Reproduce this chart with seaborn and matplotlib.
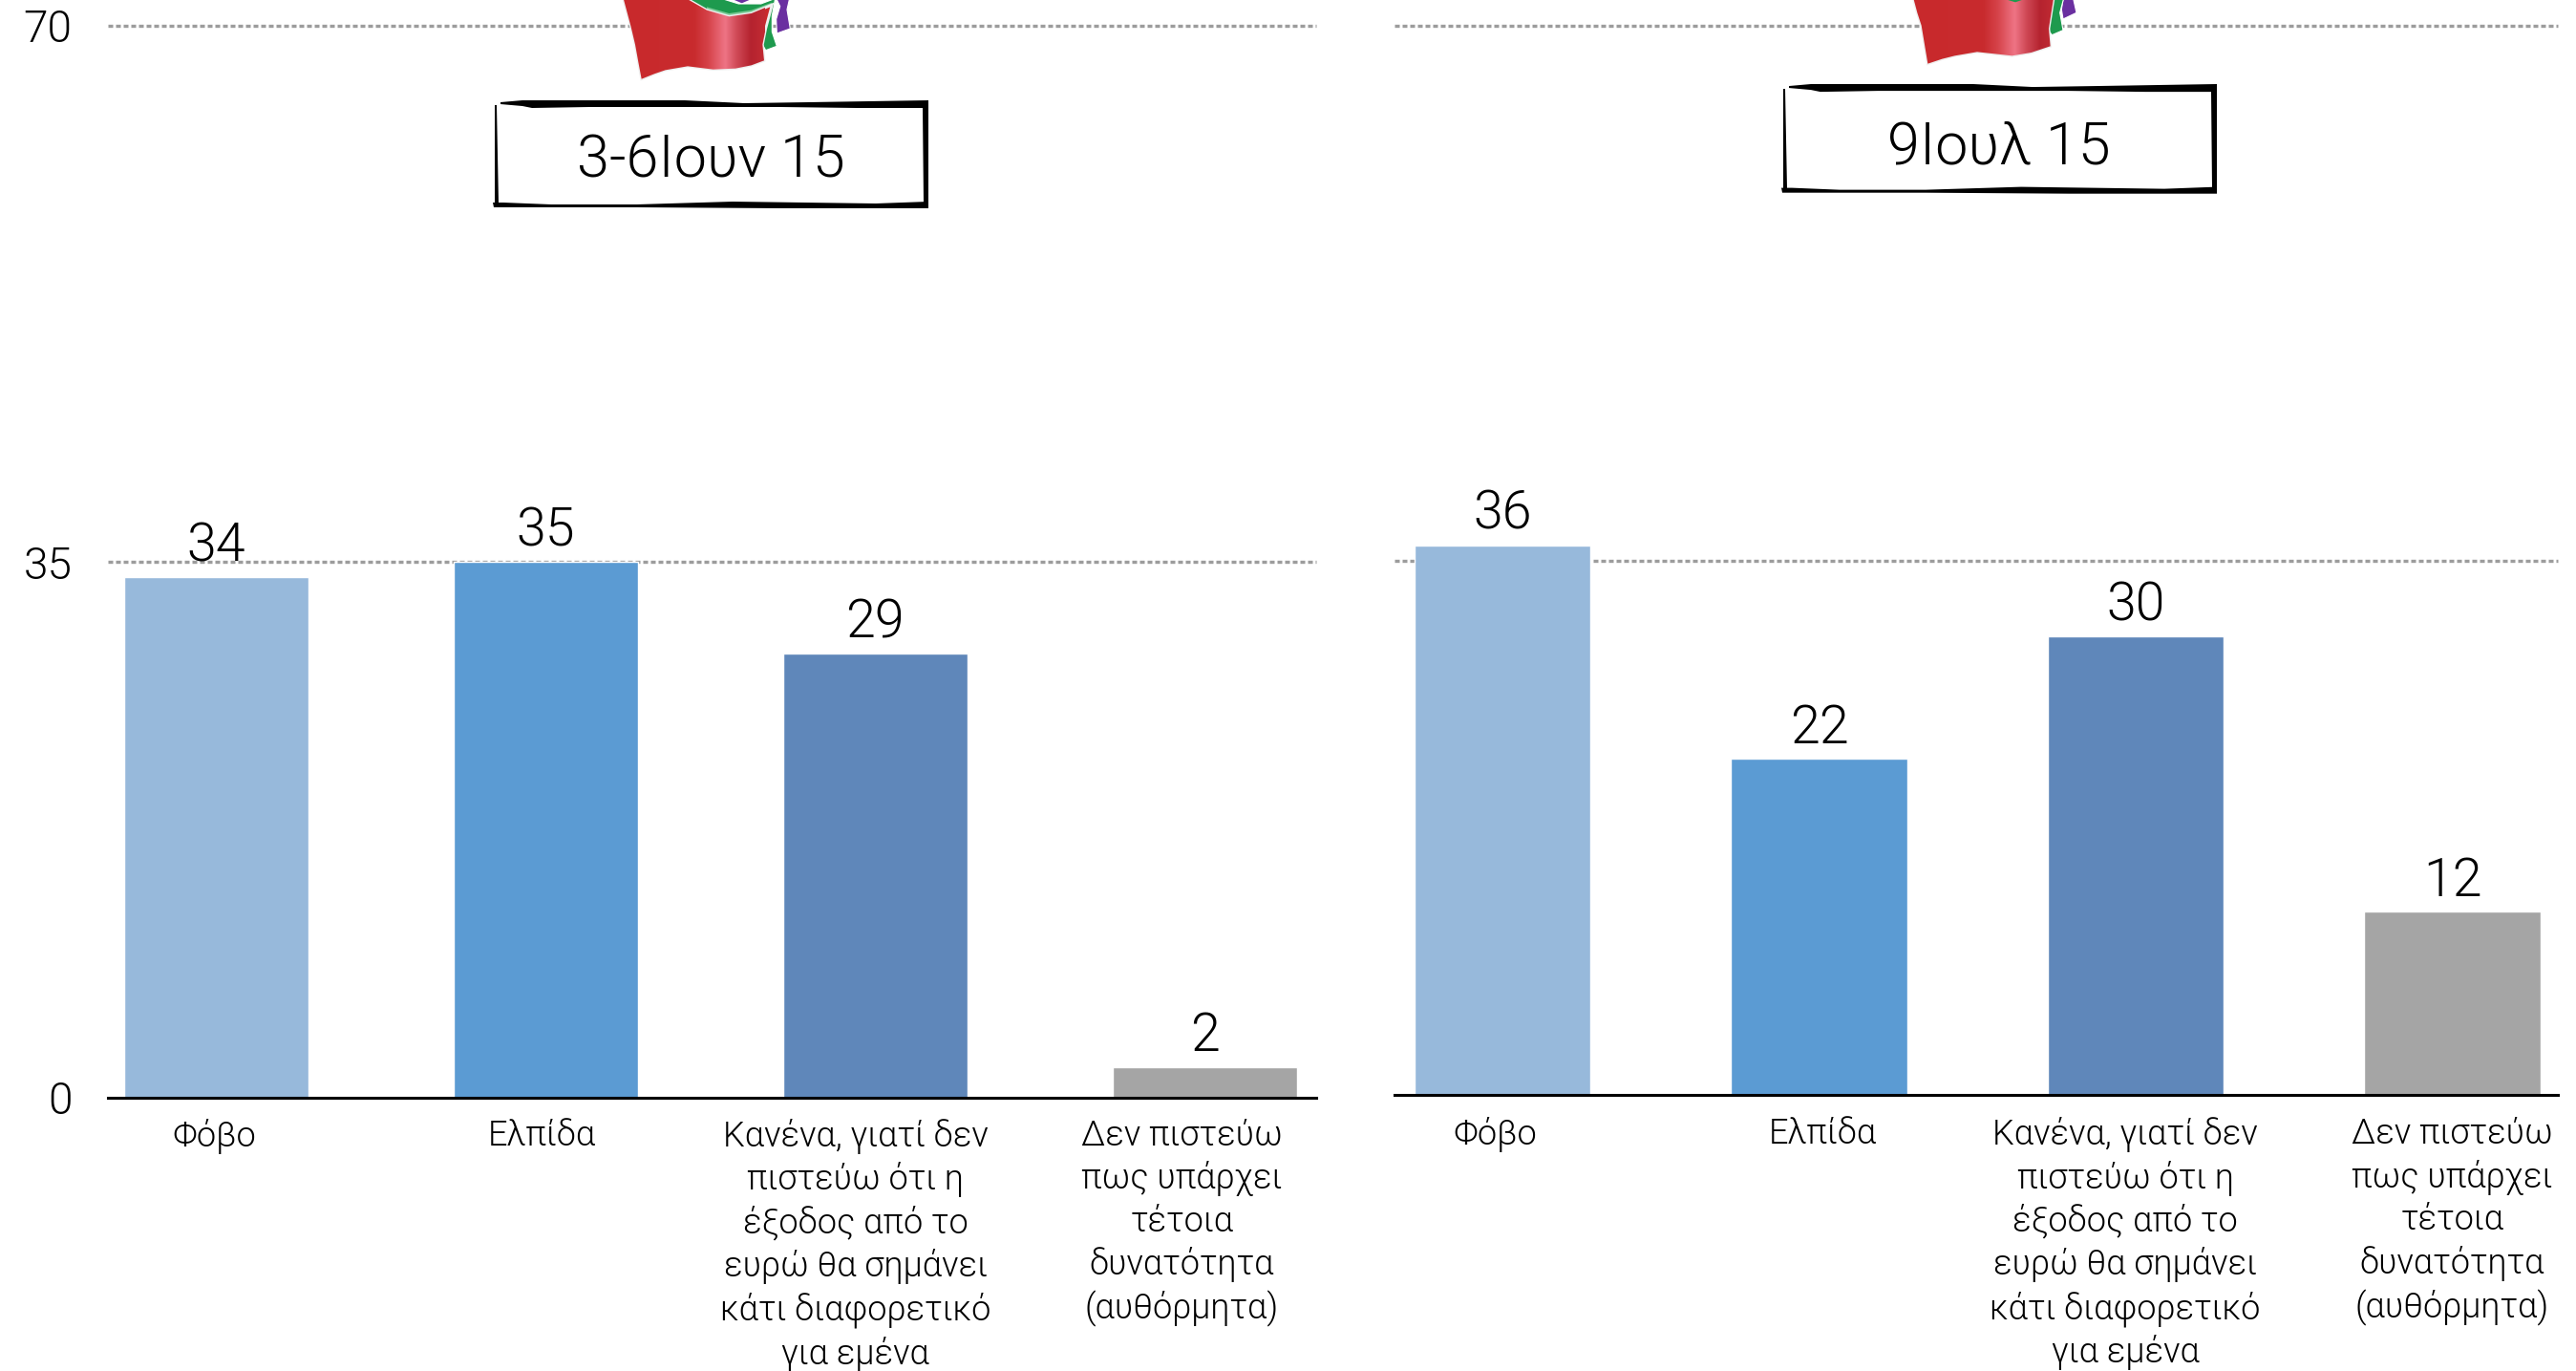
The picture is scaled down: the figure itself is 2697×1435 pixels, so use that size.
import matplotlib
matplotlib.use('Agg')
import matplotlib.pyplot as plt
from matplotlib.colors import LinearSegmentedColormap
from matplotlib.patches import Polygon
import numpy as np
import pandas as pd
import seaborn as sns

W, H = 2697, 1435

categories = ['Φόβο', 'Ελπίδα',
              'Κανένα, γιατί δεν\nπιστεύω ότι η\nέξοδος από το\nευρώ θα σημάνει\nκάτι διαφορετικό\nγια εμένα',
              'Δεν πιστεύω\nπως υπάρχει\nτέτοια\nδυνατότητα\n(αυθόρμητα)']
values_june = [34, 35, 29, 2]
values_july = [36, 22, 30, 12]
date_june = '3-6Ιουν 15'
date_july = '9Ιουλ 15'
yticks = [0, 35, 70]
colors = ['#97B9DB', '#5B9BD3', '#5F87BA', '#A5A5A5']

sns.set_theme(style='white')
plt.rcParams['font.family'] = ['Roboto', 'DejaVu Sans']
plt.rcParams['font.weight'] = 300
plt.rcParams['text.color'] = 'black'

fig = plt.figure(figsize=(W / 100, H / 100), dpi=100, facecolor='white')


def panel(box, values, xlim, width, label_shift, show_y, pad_label, pad_x):
    x0, x1, ytop, ybot = box
    ax = fig.add_axes([x0 / W, 1 - ybot / H, (x1 - x0) / W, (ybot - ytop) / H])
    df = pd.DataFrame({'cat': categories, 'value': values})
    sns.barplot(data=df, x='cat', y='value', hue='cat', palette=colors, dodge=False,
                legend=False, width=width, saturation=1, ax=ax, zorder=2)
    for c in ax.containers:
        ax.bar_label(c, fontsize=40, color='black', padding=pad_label, fontweight=300)
    ax.set_xlim(*xlim)
    ax.set_ylim(0, 70)
    ax.set_xlabel('')
    ax.set_ylabel('')
    ax.set_facecolor('none')
    for s in ['top', 'left', 'right']:
        ax.spines[s].set_visible(False)
    ax.spines['bottom'].set_linewidth(2.2)
    ax.spines['bottom'].set_color('black')
    ax.spines['bottom'].set_zorder(3)
    for yv in yticks[1:]:
        ax.axhline(yv, color='#9C9C9C', lw=2.4, dashes=(1.5, 0.9),
                   dash_capstyle='butt', zorder=1, clip_on=False)
    ax.set_xticks(np.arange(4) + np.array(label_shift), categories)
    ax.tick_params(axis='x', length=0, pad=pad_x)
    for t in ax.get_xticklabels():
        t.set_fontsize(26)
        t.set_linespacing(1.30)
        t.set_fontweight(300)
        t.set_color('black')
        t.set_va('top')
    ax.set_yticks(yticks)
    if show_y:
        ax.tick_params(axis='y', length=0, pad=27)
        for t in ax.get_yticklabels():
            t.set_fontsize(33)
            t.set_fontweight(300)
            t.set_color('black')
    else:
        ax.tick_params(axis='y', length=0, labelleft=False)
    return ax


panel((113, 1378, 27, 1149), values_june, (-0.328, 3.338), 0.56,
      [-0.005, -0.01, -0.06, -0.07], True, 4, 15.5)
panel((1460, 2678, 27, 1146), values_july, (-0.341, 3.333), 0.556,
      [-0.024, 0.01, -0.033, 0.0], False, 4, 16.5)

# Overlay in pixel coordinates for the decorative flag logos and frames
ov = fig.add_axes([0, 0, 1, 1], zorder=10)
ov.set_axis_off()
ov.patch.set_alpha(0)

red_cmap = LinearSegmentedColormap.from_list('flag', [
    (0.00, '#C9292C'), (0.50, '#C82B2E'), (0.60, '#D6434A'), (0.72, '#EE7485'),
    (0.80, '#D04A57'), (0.90, '#B5232F'), (1.00, '#C22B33')])
GREEN, PURPLE, LIGHT = '#1E9A4E', '#6A2FA0', '#7CCB96'


def flag(ox, oy, red, green, stripe, purple):
    def pts(p):
        return [(ox + x / 3, oy + y / 3) for x, y in p]
    ov.add_patch(Polygon(pts(purple), closed=True, fc=PURPLE, ec='white', lw=0.8, zorder=2))
    ov.add_patch(Polygon(pts(green), closed=True, fc=GREEN, ec='white', lw=0.8, zorder=3))
    if stripe:
        ov.add_patch(Polygon(pts(stripe), closed=True, fc=LIGHT, ec='none', zorder=4))
    ov.add_patch(Polygon(pts(red), closed=True, fc='#C9292C', ec='#EFEFEF', lw=2, zorder=5))
    clip = Polygon(pts(red), closed=True, transform=ov.transData, fc='none', ec='none')
    ov.add_patch(clip)
    im = ov.imshow(np.linspace(0, 1, 256)[None, :], cmap=red_cmap, aspect='auto', zorder=6,
                   extent=(ox + 68 / 3, ox + 512 / 3, oy + 250 / 3, oy - 2), interpolation='bilinear')
    im.set_clip_path(clip)


flag(630, 0,
     red=[(68, -5), (80, 40), (92, 85), (105, 140), (115, 195), (125, 248), (165, 232), (200, 220),
          (270, 208), (350, 218), (420, 215), (470, 205), (510, 190), (505, 140), (515, 90),
          (535, 15), (470, 42), (400, 52), (330, 32), (265, -5)],
     green=[(260, -5), (375, -5), (430, 12), (500, 12), (545, -5), (535, 50), (535, 100),
            (550, 145), (515, 158), (505, 140), (515, 90), (535, 15), (470, 42), (400, 52), (330, 32)],
     stripe=[(330, 22), (400, 42), (470, 32), (535, 8), (535, 15), (470, 42), (400, 52), (330, 32)],
     purple=[(548, -5), (590, -5), (582, 30), (592, 90), (550, 105), (548, 60), (560, 20)])
ov.add_patch(Polygon([(630 + x / 3, y / 3) for x, y in
                      [(405, -5), (475, -5), (440, 10)]], closed=True, fc=PURPLE, ec='none', zorder=2))
flag(1980, 0,
     red=[(70, -5), (82, 40), (95, 80), (105, 140), (115, 200), (160, 185), (200, 175), (270, 163),
          (380, 175), (440, 165), (500, 145), (495, 90), (510, -5)],
     green=[(505, -5), (542, -5), (530, 40), (540, 95), (505, 110), (490, 90), (500, 30)],
     stripe=None,
     purple=[(540, -5), (572, -5), (582, 40), (540, 60), (535, 30)])
ov.add_patch(Polygon([(1980 + x / 3, y / 3) for x, y in
                      [(350, -5), (425, -5), (390, 7)]], closed=True, fc=GREEN, ec='none', zorder=7))

TOP = [(7, 2), (30, 0), (200, 0), (262, 3), (330, 2), (455, 0), (455, 8), (380, 8), (300, 7),
       (200, 7), (100, 7), (40, 8), (30, 6), (7, 4)]
BOTTOM = [(-1, 107), (0, 112), (150, 112), (300, 113), (455, 113), (455, 106), (400, 108),
          (250, 106), (150, 109), (60, 109), (10, 107)]
LEFT = [(1, 5), (3, 5), (5, 108), (1, 108)]
RIGHT = [(449, 8), (455, 4), (455, 108), (450, 108)]


def frame(ox, oy, sy, label, cx, cy):
    for shape in (TOP, BOTTOM, LEFT, RIGHT):
        ov.add_patch(Polygon([(ox + x, oy + y * sy) for x, y in shape], closed=True,
                             fc='black', ec='none', zorder=8))
    ov.text(cx, cy, label, fontsize=44, fontweight=300, color='black', ha='center',
            va='center_baseline', zorder=9)


frame(517, 105, 1.0, date_june, 744, 163)
frame(1866, 88, 1.015, date_july, 2093, 148)

ov.set_xlim(0, W)
ov.set_ylim(H, 0)

fig.savefig('out.png', dpi=100, facecolor='white')
